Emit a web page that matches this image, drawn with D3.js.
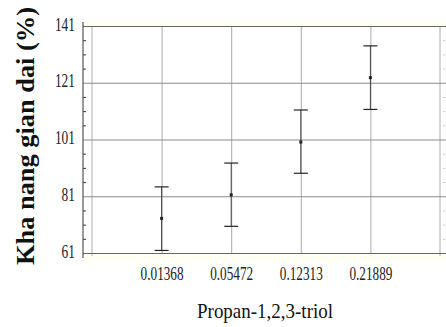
<!DOCTYPE html>
<head>
  <meta charset="utf-8">
  <script src="https://d3js.org/d3.v7.min.js"></script>
  <style>
    body { margin:0; background:#fff; }
    text { font-family: "Liberation Serif", "Times New Roman", serif; }
  </style>
</head>
<body>
  <svg id="svgelem" width="446" height="327"></svg>
  <script>
    // data
    var categories = ["0.01368", "0.05472", "0.12313", "0.21889"];
    var means = [73.2, 81.5, 100.1, 122.8];
    var upper = [84.3, 92.7, 111.4, 134.0];
    var lower = [61.9, 70.4, 89.1, 111.6];
    var yTicks = [61, 81, 101, 121, 141];

    var svg = d3.select("#svgelem");
    var pLeft = 83, pRight = 446, pTop = 26, pBottom = 253;

    // faint yellowish band round the plot, like the original
    svg.append("rect").attr("x", pLeft).attr("y", 20).attr("width", pRight - pLeft).attr("height", 242)
      .attr("fill", "#fffff2");
    svg.append("rect").attr("x", pLeft).attr("y", pTop).attr("width", pRight - pLeft).attr("height", pBottom - pTop)
      .attr("fill", "#fff");

    var x = d3.scalePoint().domain(categories).range([92, 440]).padding(1);
    var y = d3.scaleLinear().domain([61, 141]).range([pBottom, pTop]);

    // light edge lines
    [92, 440].forEach(function(v) {
      svg.append("line").attr("x1", v).attr("x2", v).attr("y1", pTop).attr("y2", pBottom + 3)
        .attr("stroke", "#d6d6d6").attr("stroke-width", 2);
    });

    // vertical grid at categories
    svg.append("g").attr("transform", "translate(0," + pBottom + ")")
      .call(d3.axisTop(x).tickSize(pBottom - pTop).tickFormat(""))
      .call(function(g) { g.select(".domain").remove(); })
      .selectAll("line").attr("stroke", "#a8a8a8");

    // horizontal grid
    svg.append("g").attr("transform", "translate(" + pLeft + ",0)")
      .call(d3.axisRight(y).tickValues(yTicks).tickSize(pRight - pLeft).tickFormat(""))
      .call(function(g) { g.select(".domain").remove(); })
      .selectAll("line")
      .attr("stroke", function(d) { return (d === 61 || d === 141) ? "#666" : "#8a8a8a"; });

    // minor ticks on the left axis
    var minor = d3.range(61, 142, 5).filter(function(v) { return yTicks.indexOf(v) < 0; });
    svg.append("g").attr("transform", "translate(" + pLeft + ",0)")
      .call(d3.axisRight(y).tickValues(minor).tickSize(3).tickFormat(""))
      .call(function(g) { g.select(".domain").remove(); })
      .selectAll("line").attr("stroke", "#333");

    // right side faint minor ticks
    svg.append("g").attr("transform", "translate(445,0)")
      .call(d3.axisLeft(y).tickValues(minor).tickSize(2).tickFormat(""))
      .call(function(g) { g.select(".domain").remove(); })
      .selectAll("line").attr("stroke", "#ccc");

    svg.append("line").attr("x1", pLeft).attr("x2", pLeft).attr("y1", 22).attr("y2", 258)
      .attr("stroke", "#555").attr("stroke-width", 1.2);

    // y tick labels (narrow, tall serif digits)
    svg.append("g").attr("transform", "translate(" + pLeft + ",0)")
      .call(d3.axisLeft(y).tickValues(yTicks).tickSize(0).tickPadding(8))
      .call(function(g) { g.select(".domain").remove(); })
      .selectAll("text")
      .attr("dy", "0.22em")
      .attr("textLength", function(d) { return String(d).length * 6.7; })
      .attr("lengthAdjust", "spacingAndGlyphs")
      .style("font-size", "19px").style("font-family", "Liberation Serif").attr("fill", "#222");

    // x tick labels
    svg.append("g").attr("transform", "translate(0," + pBottom + ")")
      .call(d3.axisBottom(x).tickSize(0).tickPadding(14))
      .call(function(g) { g.select(".domain").remove(); })
      .selectAll("text")
      .attr("textLength", 43)
      .attr("lengthAdjust", "spacingAndGlyphs")
      .style("font-size", "19px").style("font-family", "Liberation Serif").attr("fill", "#222");

    // error bars
    var bars = svg.append("g").selectAll("g").data(categories).enter().append("g")
      .attr("transform", function(d) { return "translate(" + x(d) + ",0)"; });
    bars.append("line").attr("x1", 0).attr("x2", 0)
      .attr("y1", function(d, i) { return y(upper[i]); })
      .attr("y2", function(d, i) { return y(lower[i]); })
      .attr("stroke", "#444");
    bars.append("line").attr("x1", -7).attr("x2", 7)
      .attr("y1", function(d, i) { return y(upper[i]); })
      .attr("y2", function(d, i) { return y(upper[i]); })
      .attr("stroke", "#222").attr("stroke-width", 1.2);
    bars.append("line").attr("x1", -7).attr("x2", 7)
      .attr("y1", function(d, i) { return y(lower[i]); })
      .attr("y2", function(d, i) { return y(lower[i]); })
      .attr("stroke", "#222").attr("stroke-width", 1.2);
    bars.append("rect").attr("x", -1.5).attr("width", 3).attr("height", 3)
      .attr("y", function(d, i) { return y(means[i]) - 1.5; })
      .attr("fill", "#222");

    // titles
    svg.append("text").attr("x", 265).attr("y", 318).attr("text-anchor", "middle")
      .attr("textLength", 136).attr("lengthAdjust", "spacingAndGlyphs")
      .style("font-size", "21px").attr("fill", "#111").text("Propan-1,2,3-triol");

    svg.append("text").attr("transform", "translate(34,136) rotate(-90)").attr("text-anchor", "middle")
      .attr("textLength", 258).attr("lengthAdjust", "spacingAndGlyphs")
      .style("font-size", "25px").style("font-weight", "bold").attr("fill", "#111")
      .text("Kha nang gian dai (%)");
  </script>
</body>
